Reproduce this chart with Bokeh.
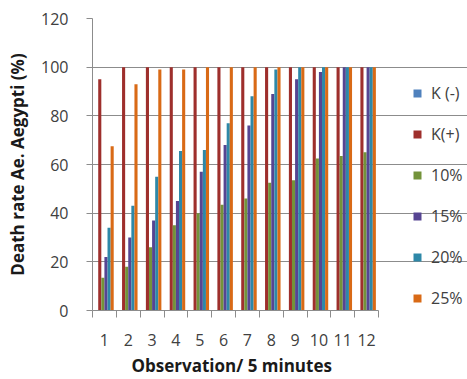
from bokeh.plotting import figure
from bokeh.models import (ColumnDataSource, Range1d, FixedTicker, Legend, LegendItem, Title)
from bokeh.transform import dodge
from bokeh.embed import file_html
from bokeh.resources import INLINE

# ---- data ----
observations = [1, 2, 3, 4, 5, 6, 7, 8, 9, 10, 11, 12]
tick_labels = [str(o) for o in observations]
series_names = ["K (-)", "K(+)", "10%", "15%", "20%", "25%"]
k_neg = [0, 0, 0, 0, 0, 0, 0, 0, 0, 0, 0, 0]
k_pos = [95, 100, 100, 100, 100, 100, 100, 100, 100, 100, 100, 100]
c10 = [13.5, 18, 26, 35, 40, 43.5, 46, 52.5, 53.5, 62.5, 63.5, 65]
c15 = [22, 30, 37, 45, 57, 68, 76, 89, 95, 98, 100, 100]
c20 = [34, 43, 55, 65.5, 66, 77, 88, 99, 100, 100, 100, 100]
c25 = [67.5, 93, 99, 99, 100, 100, 100, 100, 100, 100, 100, 100]
y_ticks = [0, 20, 40, 60, 80, 100, 120]
x_title = "Observation/ 5 minutes"
y_title = "Death rate Ae. Aegypti (%)"

series_values = [k_neg, k_pos, c10, c15, c20, c25]
colors = ["#4F81BD", "#9E2F2C", "#73933A", "#564592", "#2E88A8", "#D96A16"]

FONT = "Open Sans"

W, H = 467, 379
LEFT, TOP, BOTTOM = 92, 18, 68
PLOT_W = 286  # width of the category area in px
x0 = observations[0] - 0.5
x1 = observations[-1] + 0.5
# extend the range so that the legend area lies inside the frame
x_end = x0 + (x1 - x0) * (W - LEFT) / PLOT_W

p = figure(width=W, height=H, output_backend="svg", toolbar_location=None,
           x_range=Range1d(x0, x_end), y_range=Range1d(0, 120),
           min_border_left=LEFT, min_border_right=0, min_border_top=TOP,
           min_border_bottom=BOTTOM)
p.outline_line_color = None
p.background_fill_color = "white"
p.border_fill_color = "white"

src = ColumnDataSource(dict(obs=observations, **{f"s{i}": v for i, v in enumerate(series_values)}))

bw = 0.13
renderers = []
for i, (name, col) in enumerate(zip(series_names, colors)):
    off = (i - 2.5) * bw
    r = p.vbar(x=dodge("obs", off, range=p.x_range), top=f"s{i}", width=bw,
               source=src, fill_color=col, line_color=None)
    renderers.append(r)

# x axis: labels at category centres, tick marks between categories
p.xaxis.bounds = (x0, x1)
p.xaxis.ticker = FixedTicker(ticks=observations,
                             minor_ticks=[o - 0.5 for o in observations] + [x1])
p.xaxis.major_label_overrides = {o: l for o, l in zip(observations, tick_labels)}
p.xaxis.major_tick_line_color = None
p.xaxis.major_tick_out = 0
p.xaxis.major_tick_in = 0
p.xaxis.minor_tick_out = 7
p.xaxis.minor_tick_in = 0
p.xaxis.minor_tick_line_color = "#8c8c8c"
p.xaxis.axis_line_color = "#8c8c8c"
p.xaxis.major_label_standoff = 16
p.xaxis.major_label_text_font = FONT
p.xaxis.major_label_text_font_size = "16px"
p.xaxis.major_label_text_color = "#404040"

# x-axis title, centred under the category area
t = Title(text=x_title, align="left", offset=39, standoff=6,
          text_font=FONT, text_font_style="bold", text_font_size="17px",
          text_color="#1a1a1a")
p.add_layout(t, "below")

p.yaxis.ticker = FixedTicker(ticks=y_ticks)
p.yaxis.minor_tick_line_color = None
p.yaxis.major_tick_out = 6
p.yaxis.major_tick_in = 0
p.yaxis.major_tick_line_color = "#8c8c8c"
p.yaxis.axis_line_color = "#8c8c8c"
p.yaxis.major_label_standoff = 18
p.yaxis.major_label_text_font = FONT
p.yaxis.major_label_text_font_size = "16px"
p.yaxis.major_label_text_color = "#404040"
p.yaxis.axis_label = y_title
p.yaxis.axis_label_text_font = FONT
p.yaxis.axis_label_text_font_style = "bold"
p.yaxis.axis_label_text_font_size = "17px"
p.yaxis.axis_label_text_color = "#1a1a1a"
p.yaxis.axis_label_standoff = 9

p.xgrid.grid_line_color = None
p.ygrid.grid_line_color = "#8c8c8c"
p.ygrid.ticker = FixedTicker(ticks=y_ticks)
p.ygrid.bounds = (x0, x1)

legend = Legend(items=[LegendItem(label=n, renderers=[r]) for n, r in zip(series_names, renderers)],
                location=(320, 1), orientation="vertical",
                glyph_width=10, glyph_height=10, label_standoff=9,
                label_height=20, spacing=19, padding=0, margin=0,
                label_text_font=FONT, label_text_font_size="16px",
                label_text_color="#404040",
                background_fill_alpha=0, border_line_color=None)
p.add_layout(legend, "center")

open("out.html", "w").write(file_html(p, INLINE))
